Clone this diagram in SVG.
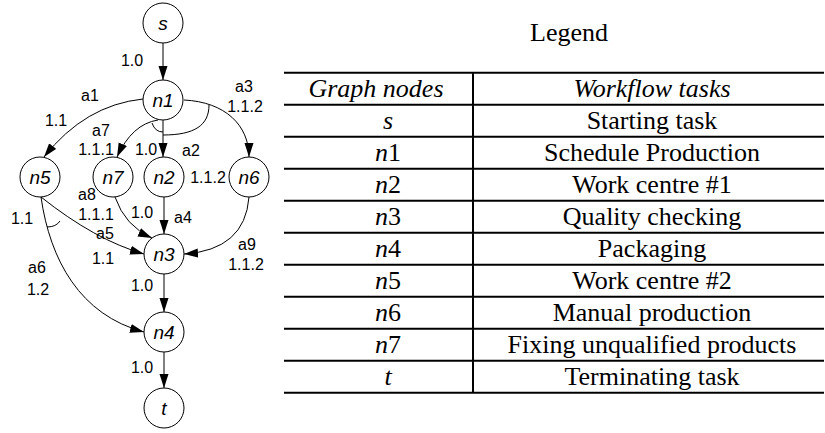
<svg xmlns="http://www.w3.org/2000/svg" width="825" height="433" viewBox="0 0 825 433">
  <style>
    .node circle { fill: #fff; stroke: #000; stroke-width: 1; }
    .node text { font-family: "Liberation Sans", Arial, sans-serif; font-style: italic; font-size: 19px; text-anchor: middle; fill: #000; }
    .edge { fill: none; stroke: #000; stroke-width: 1; }
    .arrow { marker-end: url(#head); }
    .lbl { font-family: "Liberation Sans", Arial, sans-serif; font-size: 16px; text-anchor: middle; fill: #000; }
    .tbl { font-family: "Liberation Serif", "Times New Roman", serif; font-size: 26px; text-anchor: middle; fill: #000; }
    .it { font-style: italic; }
    .rule { stroke: #000; stroke-width: 2; }
  </style>
  <defs>
    <marker id="head" markerUnits="userSpaceOnUse" markerWidth="14" markerHeight="10" refX="14" refY="5" orient="auto">
      <path d="M0,0.5 L14,5 L0,9.5 z" fill="#000"/>
    </marker>
  </defs>

  <!-- connectors -->
  <g id="connectors">
    <path class="edge arrow" d="M163,43 L163,80"/>
    <path class="edge arrow" d="M143,99 Q85,105 44,157"/>
    <path class="edge arrow" d="M158,120 Q132,124 117,157"/>
    <path class="edge arrow" d="M163,120 L163,157"/>
    <path class="edge arrow" d="M184,100 C225,102 249,125 249,157"/>
    <!-- join arcs -->
    <path class="edge" d="M152,123 Q155,132 163,132"/>
    <path class="edge" d="M209,105 C209,125 195,135 163,135"/>
    <path class="edge arrow" d="M41,197 Q95,240 144,254"/>
    <path class="edge arrow" d="M41,197 C50,260 80,315 144,332"/>
    <path class="edge" d="M47,227 Q56,227 60,221"/>
    <path class="edge arrow" d="M115,197 Q125,226 152,238"/>
    <path class="edge arrow" d="M164,197 L164,234"/>
    <path class="edge arrow" d="M249,197 Q245,250 184,254"/>
    <path class="edge arrow" d="M164,274 L164,312"/>
    <path class="edge arrow" d="M164,352 L164,388"/>

    <!-- connector labels -->
    <text class="lbl" x="132" y="66">1.0</text>
    <text class="lbl" x="90" y="101">a1</text>
    <text class="lbl" x="56" y="126">1.1</text>
    <text class="lbl" x="101" y="136">a7</text>
    <text class="lbl" x="244" y="92">a3</text>
    <text class="lbl" x="245" y="112">1.1.2</text>
    <text class="lbl" x="96" y="155">1.1.1</text>
    <text class="lbl" x="146" y="155">1.0</text>
    <text class="lbl" x="191" y="156">a2</text>
    <text class="lbl" x="208" y="183">1.1.2</text>
    <text class="lbl" x="87" y="200">a8</text>
    <text class="lbl" x="22" y="224">1.1</text>
    <text class="lbl" x="96" y="220">1.1.1</text>
    <text class="lbl" x="142" y="218">1.0</text>
    <text class="lbl" x="183" y="223">a4</text>
    <text class="lbl" x="105" y="239">a5</text>
    <text class="lbl" x="103" y="264">1.1</text>
    <text class="lbl" x="247" y="250">a9</text>
    <text class="lbl" x="246" y="270">1.1.2</text>
    <text class="lbl" x="37" y="273">a6</text>
    <text class="lbl" x="38" y="295">1.2</text>
    <text class="lbl" x="142" y="291">1.0</text>
    <text class="lbl" x="142" y="373">1.0</text>
  </g>

  <!-- nodes -->
  <g id="node-s" class="node"><circle cx="163" cy="23" r="20"/><text x="163" y="30">s</text></g>
  <g id="node-n1" class="node"><circle cx="163" cy="100" r="20"/><text x="163" y="107">n1</text></g>
  <g id="node-n5" class="node"><circle cx="40" cy="177" r="20"/><text x="40" y="184">n5</text></g>
  <g id="node-n7" class="node"><circle cx="113" cy="177" r="20"/><text x="113" y="184">n7</text></g>
  <g id="node-n2" class="node"><circle cx="164" cy="177" r="20"/><text x="164" y="184">n2</text></g>
  <g id="node-n6" class="node"><circle cx="249" cy="177" r="20"/><text x="249" y="184">n6</text></g>
  <g id="node-n3" class="node"><circle cx="164" cy="254" r="20"/><text x="164" y="261">n3</text></g>
  <g id="node-n4" class="node"><circle cx="164" cy="332" r="20"/><text x="164" y="339">n4</text></g>
  <g id="node-t" class="node"><circle cx="164" cy="408" r="20"/><text x="164" y="415">t</text></g>

  <!-- legend table -->
  <g id="legend">
    <text class="tbl" x="569" y="41">Legend</text>
    <line class="rule" x1="284" y1="72.7" x2="824" y2="72.7"/>
    <line class="rule" x1="284" y1="104.7" x2="824" y2="104.7"/>
    <line class="rule" x1="284" y1="136.7" x2="824" y2="136.7"/>
    <line class="rule" x1="284" y1="168.7" x2="824" y2="168.7"/>
    <line class="rule" x1="284" y1="200.7" x2="824" y2="200.7"/>
    <line class="rule" x1="284" y1="232.7" x2="824" y2="232.7"/>
    <line class="rule" x1="284" y1="264.7" x2="824" y2="264.7"/>
    <line class="rule" x1="284" y1="296.7" x2="824" y2="296.7"/>
    <line class="rule" x1="284" y1="328.7" x2="824" y2="328.7"/>
    <line class="rule" x1="284" y1="360.7" x2="824" y2="360.7"/>
    <line class="rule" x1="284" y1="392.7" x2="824" y2="392.7"/>
    <line class="rule" x1="473" y1="72.7" x2="473" y2="392.7"/>

    <text class="tbl it" x="376" y="97">Graph nodes</text>
    <text class="tbl it" x="652" y="97">Workflow tasks</text>

    <text class="tbl it" x="388" y="129">s</text>
    <text class="tbl" x="652" y="129">Starting task</text>
    <text class="tbl" x="388" y="161"><tspan class="it">n</tspan>1</text>
    <text class="tbl" x="652" y="161">Schedule Production</text>
    <text class="tbl" x="388" y="193"><tspan class="it">n</tspan>2</text>
    <text class="tbl" x="652" y="193">Work centre #1</text>
    <text class="tbl" x="388" y="225"><tspan class="it">n</tspan>3</text>
    <text class="tbl" x="652" y="225">Quality checking</text>
    <text class="tbl" x="388" y="257"><tspan class="it">n</tspan>4</text>
    <text class="tbl" x="652" y="257">Packaging</text>
    <text class="tbl" x="388" y="289"><tspan class="it">n</tspan>5</text>
    <text class="tbl" x="652" y="289">Work centre #2</text>
    <text class="tbl" x="388" y="321"><tspan class="it">n</tspan>6</text>
    <text class="tbl" x="652" y="321">Manual production</text>
    <text class="tbl" x="388" y="353"><tspan class="it">n</tspan>7</text>
    <text class="tbl" x="652" y="353">Fixing unqualified products</text>
    <text class="tbl it" x="388" y="385">t</text>
    <text class="tbl" x="652" y="385">Terminating task</text>
  </g>
</svg>
